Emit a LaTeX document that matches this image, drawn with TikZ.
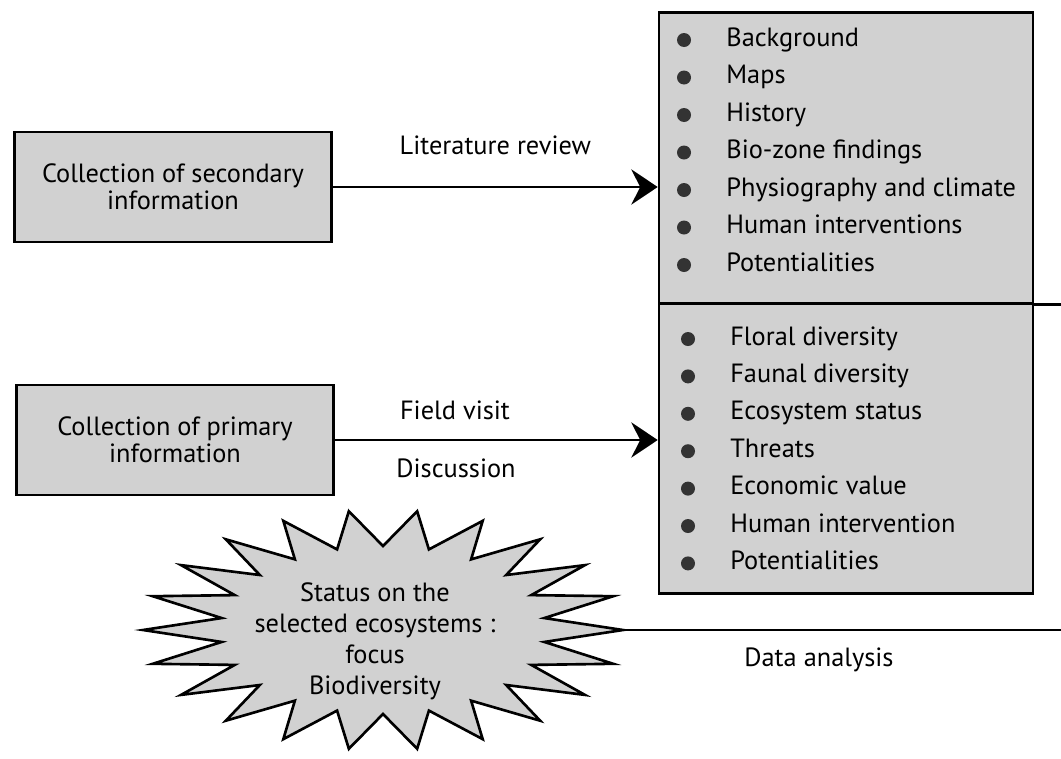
\documentclass[tikz,border=0pt]{standalone}
\usepackage{fontspec}
\setmainfont{PT Sans}
\usetikzlibrary{arrows.meta,positioning}
\tikzset{
  box/.style={draw,line width=1.5pt,fill=black!18,minimum width=6.35cm,minimum height=2.2cm,
    align=center,font=\fontsize{15}{15.5}\selectfont},
  half/.style={draw,line width=1.5pt,fill=black!18,minimum width=7.48cm,minimum height=5.81cm},
  item/.style={anchor=base west,inner sep=0pt,font=\fontsize{15}{16}\selectfont},
  lbl/.style={font=\fontsize{15}{16}\selectfont},
  arr/.style={-{Stealth[length=15pt,width=20pt,inset=5pt]},line width=1.5pt},
  burst/.style={draw,line width=1.5pt,fill=black!18,line join=miter},
  dot/.style={black!80},
}
\begin{document}
\begin{tikzpicture}[x=0.02cm,y=-0.02cm]
  \useasboundingbox (0,0) rectangle (1061,758);
  % left boxes
  \node[box] (sec) at (173,187) {Collection of secondary\\information};
  \node[box] (pri) at (175,440) {Collection of primary\\information};
  % list box, two halves
  \node[half] (lit) at (846,158) {};
  \node[half] (fld) at (846,448.5) {};
  \foreach \t [count=\i] in {Background,Maps,History,Bio-zone findings,
      Physiography and climate,Human interventions,Potentialities}{
    \fill[dot] (684,{40+37.5*(\i-1)}) circle (0.14cm);
    \node[item] (lit\i) at (726,{46+37.5*(\i-1)}) {\t};
  }
  \foreach \t [count=\i] in {Floral diversity,Faunal diversity,Ecosystem status,Threats,
      Economic value,Human intervention,Potentialities}{
    \fill[dot] (688,{339+37.4*(\i-1)}) circle (0.14cm);
    \node[item] (fld\i) at (730,{345+37.4*(\i-1)}) {\t};
  }
  % arrows
  \draw[arr] (sec.east) -- (sec.east -| lit.west)
    node[lbl,midway,above=14pt] (litrev) {Literature review};
  \draw[arr] (pri.east) -- (pri.east -| fld.west);
  \node[lbl] (visit) at (455,410) {Field visit};
  \node[lbl] (discuss) at (456,468) {Discussion};
  \coordinate (rim1) at (1061,303);
  \draw[line width=1.5pt] (lit.south -| lit.east) -- (lit.south -| rim1);
  %
  \draw[burst] (623,630) \foreach \k in {0,...,21}{
      -- ({383+163*cos((\k+0.5)*360/22)},{630+84*sin((\k+0.5)*360/22)})
      -- ({383+240*cos((\k+1)*360/22)},{630+120*sin((\k+1)*360/22)}) } -- cycle;
  \node[lbl,align=center,font=\fontsize{15}{17.6}\selectfont] (status) at (375,641)
    {Status on the\\selected ecosystems :\\focus\\Biodiversity};
  \coordinate (tip) at (623,630);
  \coordinate (rim2) at (1061,630);
  \draw[line width=1.5pt] (tip) -- (rim2);
  \node[lbl] (data) at (819,660) {Data analysis};
\end{tikzpicture}
\end{document}
